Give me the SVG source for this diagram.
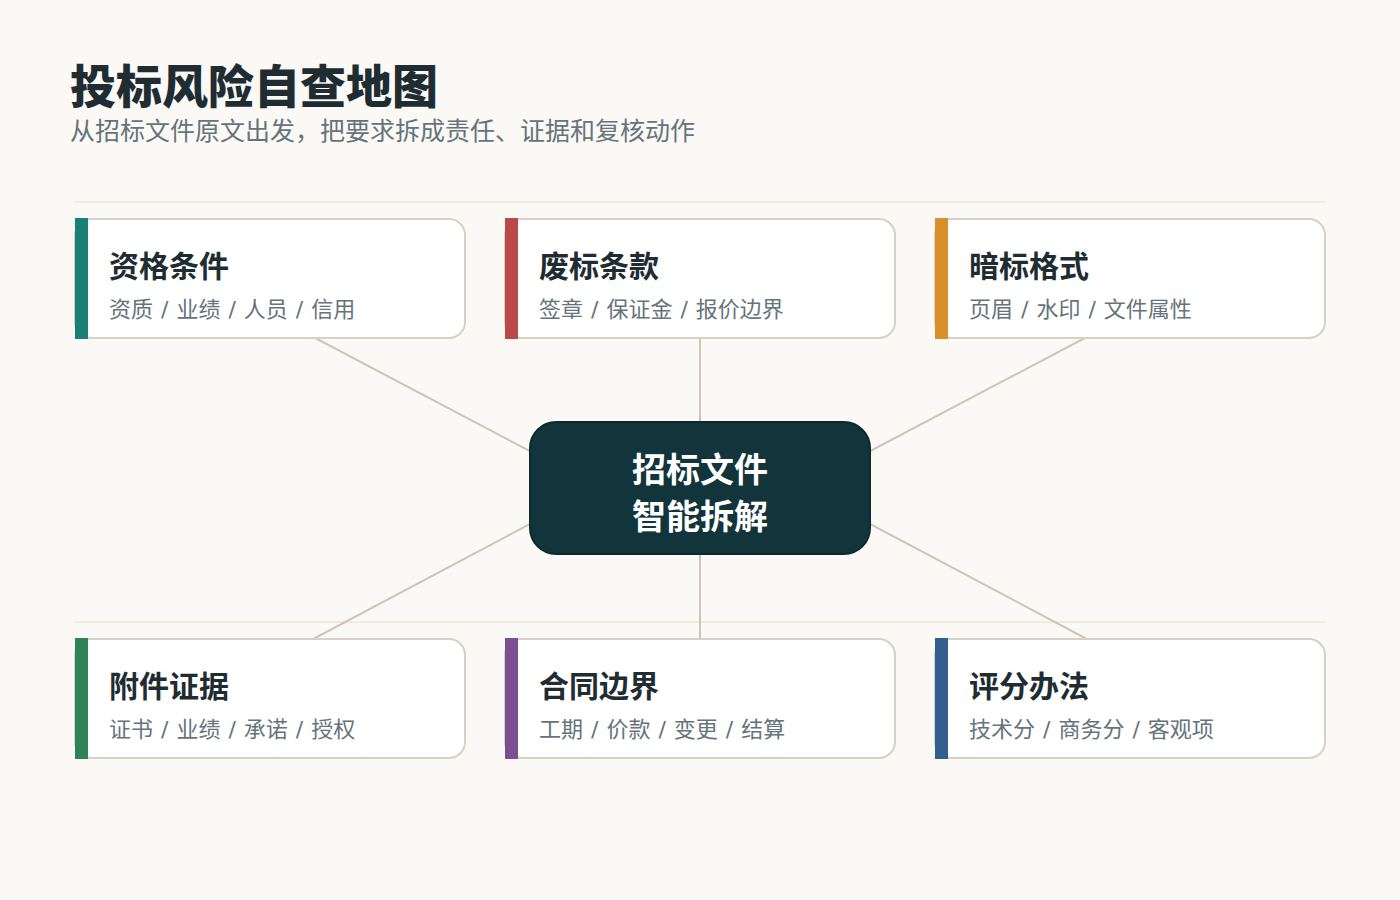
<svg xmlns="http://www.w3.org/2000/svg" width="1400" height="900" viewBox="0 0 1400 900">
<style>
.t{font-family:"Noto Sans CJK SC","Noto Sans",sans-serif}
.title{font-size:46px;font-weight:900;fill:#1f2d33}
.sub{font-size:25px;fill:#66737a}
.card{fill:#ffffff;stroke:#d6d1c4;stroke-width:2}
.ct{font-size:30px;font-weight:700;fill:#1f2d33}
.cs{font-family:"DejaVu Sans","Noto Sans CJK SC",sans-serif;font-size:22px;fill:#66737a;word-spacing:1px}
.sep{stroke:#ece6da;stroke-width:1.5}
.con line{stroke:#cdc6b8;stroke-width:2}
.hub{fill:#12343b;stroke:#0d2a30;stroke-width:2}
.ht{font-size:34px;font-weight:700;fill:#ffffff}
</style>
<rect width="1400" height="900" fill="#faf9f5"/>
<text class="t title" x="70" y="103">投标风险自查地图</text>
<text class="t sub" x="70" y="140">从招标文件原文出发，把要求拆成责任、证据和复核动作</text>
<line class="sep" x1="75" y1="202" x2="1325" y2="202"/>
<line class="sep" x1="75" y1="622" x2="1325" y2="622"/>
<g id="connectors" class="con">
<line x1="300" y1="330" x2="560" y2="467"/>
<line x1="700" y1="330" x2="700" y2="440"/>
<line x1="1100" y1="330" x2="840" y2="467"/>
<line x1="560" y1="508" x2="300" y2="646"/>
<line x1="700" y1="540" x2="700" y2="646"/>
<line x1="840" y1="508" x2="1100" y2="646"/>
</g>
<g id="node-qualification">
<rect class="card" x="75" y="219" width="390" height="119" rx="16"/>
<rect x="75" y="218" width="13" height="121" fill="#1a7f74"/>
<text class="t ct" x="109" y="277">资格条件</text>
<text class="cs" x="109" y="317">资质 / 业绩 / 人员 / 信用</text>
</g>
<g id="node-rejection">
<rect class="card" x="505" y="219" width="390" height="119" rx="16"/>
<rect x="505" y="218" width="13" height="121" fill="#b94a48"/>
<text class="t ct" x="539" y="277">废标条款</text>
<text class="cs" x="539" y="317">签章 / 保证金 / 报价边界</text>
</g>
<g id="node-format">
<rect class="card" x="935" y="219" width="390" height="119" rx="16"/>
<rect x="935" y="218" width="13" height="121" fill="#d9902a"/>
<text class="t ct" x="969" y="277">暗标格式</text>
<text class="cs" x="969" y="317">页眉 / 水印 / 文件属性</text>
</g>
<g id="node-hub">
<rect class="hub" x="530" y="422" width="340" height="132" rx="26"/>
<text class="t ht" x="700" y="482" text-anchor="middle">招标文件</text>
<text class="t ht" x="700" y="529" text-anchor="middle">智能拆解</text>
</g>
<g id="node-attachments">
<rect class="card" x="75" y="639" width="390" height="119" rx="16"/>
<rect x="75" y="638" width="13" height="121" fill="#2e8457"/>
<text class="t ct" x="109" y="697">附件证据</text>
<text class="cs" x="109" y="737">证书 / 业绩 / 承诺 / 授权</text>
</g>
<g id="node-contract">
<rect class="card" x="505" y="639" width="390" height="119" rx="16"/>
<rect x="505" y="638" width="13" height="121" fill="#7b4f91"/>
<text class="t ct" x="539" y="697">合同边界</text>
<text class="cs" x="539" y="737">工期 / 价款 / 变更 / 结算</text>
</g>
<g id="node-scoring">
<rect class="card" x="935" y="639" width="390" height="119" rx="16"/>
<rect x="935" y="638" width="13" height="121" fill="#345f91"/>
<text class="t ct" x="969" y="697">评分办法</text>
<text class="cs" x="969" y="737">技术分 / 商务分 / 客观项</text>
</g>
</svg>
